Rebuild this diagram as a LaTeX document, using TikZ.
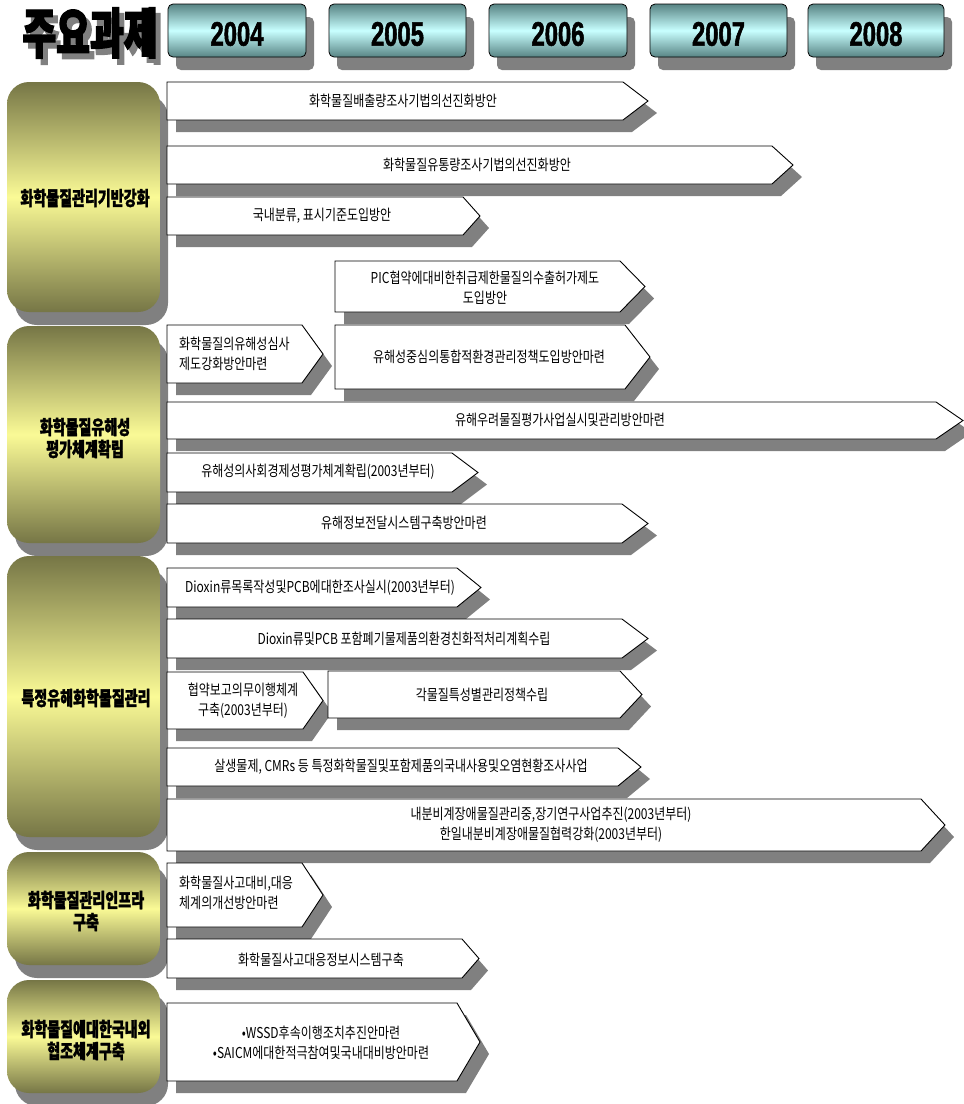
\documentclass[tikz,border=0pt]{standalone}
\usepackage{fontspec}
\newfontfamily\kr[FakeStretch=0.8]{Noto Sans CJK KR}
\newfontfamily\krcat[FakeStretch=0.72, BoldFeatures={FakeBold=1.5}]{Noto Sans CJK KR}
\newfontfamily\krtitle[FakeStretch=0.68, BoldFeatures={FakeBold=2.5}]{Noto Sans CJK KR}
\newfontfamily\yearfont[FakeStretch=0.7, BoldFeatures={FakeBold=1.5}]{Liberation Sans}

\definecolor{shadowgray}{RGB}{128,128,128}
\definecolor{olivedark}{RGB}{118,118,70}
\definecolor{olivelight}{RGB}{250,250,150}
\definecolor{tealdark}{RGB}{88,132,132}
\definecolor{teallight}{RGB}{200,255,255}

% arrow-shaped bar: left, top, tip start, tip point, bottom
\newcommand\chartbar[5]{%
  \begin{scope}[shift={(9,12)}]
    \fill[barshadow] (#1,#2) -- (#3,#2) -- (#4,{(#2+#5)/2}) -- (#3,#5) -- (#1,#5) -- cycle;
  \end{scope}
  \draw[barshape] (#1,#2) -- (#3,#2) -- (#4,{(#2+#5)/2}) -- (#3,#5) -- (#1,#5) -- cycle;
}
% category panel on the left: top, bottom
\newcommand\catbox[2]{%
  \begin{scope}[shift={(8,13)}]
    \fill[barshadow, rounded corners=22pt] (7,#1) rectangle (160,#2);
  \end{scope}
  \shade[rounded corners=22pt, top color=olivedark, bottom color=olivedark, middle color=olivelight] (7,#1) rectangle (160,#2);
}
% year header: left, right
\newcommand\yearbox[2]{%
  \begin{scope}[shift={(8,13)}]
    \fill[barshadow, rounded corners=5pt] (#1,4) rectangle (#2,57);
  \end{scope}
  \shadedraw[draw=black, line width=0.8pt, rounded corners=5pt, top color=tealdark, bottom color=tealdark, middle color=teallight] (#1,4) rectangle (#2,57);
}

\begin{document}
\begin{tikzpicture}[x=1pt, y=-1pt,
  barshadow/.style={fill=shadowgray},
  barshape/.style={draw=black, fill=white, line width=0.9pt, line join=miter},
  bartext/.style={font=\kr\fontsize{15}{20}\selectfont, inner sep=0pt, align=center, text=black},
  barleft/.style={bartext, align=left, anchor=west},
  cattext/.style={font=\krcat\bfseries\fontsize{19.5}{22}\selectfont, inner sep=0pt, align=center, text=black},
  yeartext/.style={font=\yearfont\bfseries\fontsize{34}{34}\selectfont, inner sep=0pt, text=black},
  titletext/.style={font=\krtitle\bfseries\fontsize{54}{54}\selectfont, inner sep=0pt},
]
\useasboundingbox (0,0) rectangle (964,1104);
\fill[white] (0,0) rectangle (964,1104);

% ---- header ----
\node[titletext, text=shadowgray] (titleshadow) at (95,39) {주요과제};
\node[titletext, text=black] (title) at (90,33) {주요과제};

\yearbox{168}{306}
\node[yeartext] (y2004) at (237,34) {2004};
\yearbox{329}{466}
\node[yeartext] (y2005) at (397.5,34) {2005};
\yearbox{489}{627}
\node[yeartext] (y2006) at (558,34) {2006};
\yearbox{650}{787}
\node[yeartext] (y2007) at (718.5,34) {2007};
\yearbox{808}{944}
\node[yeartext] (y2008) at (876,34) {2008};

% ---- category panels ----
\catbox{82}{312}
\node[cattext] (c1) at (85,198) {화학물질관리기반강화};
\catbox{326}{543}
\node[cattext] (c2) at (85,438) {화학물질유해성\\평가체계확립};
\catbox{556}{837}
\node[cattext] (c3) at (86,698) {특정유해화학물질관리};
\catbox{852}{965}
\node[cattext] (c4) at (86,911) {화학물질관리인프라\\구축};
\catbox{980}{1093}
\node[cattext] (c5) at (86,1040) {화학물질에대한국내외\\협조체계구축};

% ---- tasks ----
\chartbar{167}{82}{623}{648}{120}
\node[bartext] (t1) at (403,101) {화학물질배출량조사기법의선진화방안};
\chartbar{167}{146}{772}{793}{184}
\node[bartext] (t2) at (477,165) {화학물질유통량조사기법의선진화방안};
\chartbar{167}{197}{463}{480}{235}
\node[bartext] (t3) at (322,216) {국내분류, 표시기준도입방안};
\chartbar{335}{261}{620}{645}{312}
\node[bartext, text width=270pt] (t4) at (485,288) {PIC협약에대비한취급제한물질의수출허가제도\\도입방안};

\chartbar{167}{325}{302}{323}{383}
\node[barleft] (t5) at (179,354) {화학물질의유해성심사\\제도강화방안마련};
\chartbar{335}{325}{625}{650}{389}
\node[bartext] (t6) at (489,357) {유해성중심의통합적환경관리정책도입방안마련};
\chartbar{167}{402}{936}{963}{439}
\node[bartext] (t7) at (560,420) {유해우려물질평가사업실시및관리방안마련};
\chartbar{167}{453}{452}{478}{492}
\node[bartext] (t8) at (318,472) {유해성의사회경제성평가체계확립(2003년부터)};
\chartbar{167}{504}{622}{648}{543}
\node[bartext] (t9) at (404,523) {유해정보전달시스템구축방안마련};

\chartbar{167}{568}{457}{481}{607}
\node[bartext] (t10) at (320,588) {Dioxin류목록작성및PCB에대한조사실시(2003년부터)};
\chartbar{167}{619}{622}{648}{658}
\node[bartext] (t11) at (404,639) {Dioxin류및PCB 포함폐기물제품의환경친화적처리계획수립};
\chartbar{167}{672}{303}{323}{729}
\node[bartext] (t12) at (243,701) {협약보고의무이행체계\\구축(2003년부터)};
\chartbar{328}{671}{620}{642}{718}
\node[bartext] (t13) at (482,695) {각물질특성별관리정책수립};
\chartbar{167}{748}{618}{641}{786}
\node[bartext] (t14) at (401,767) {살생물제, CMRs 등 특정화학물질및포함제품의국내사용및오염현황조사사업};
\chartbar{167}{799}{921}{945}{851}
\node[bartext] (t15) at (551,825) {내분비계장애물질관리중,장기연구사업추진(2003년부터)\\한일내분비계장애물질협력강화(2003년부터)};

\chartbar{167}{863}{302}{323}{927}
\node[barleft] (t16) at (179,893) {화학물질사고대비,대응\\체계의개선방안마련};
\chartbar{167}{939}{462}{479}{978}
\node[bartext] (t17) at (321,960) {화학물질사고대응정보시스템구축};

\chartbar{167}{1003}{457}{480}{1081}
\node[bartext] (t18) at (321,1043) {•WSSD후속이행조치추진안마련\\•SAICM에대한적극참여및국내대비방안마련};
\end{tikzpicture}
\end{document}
